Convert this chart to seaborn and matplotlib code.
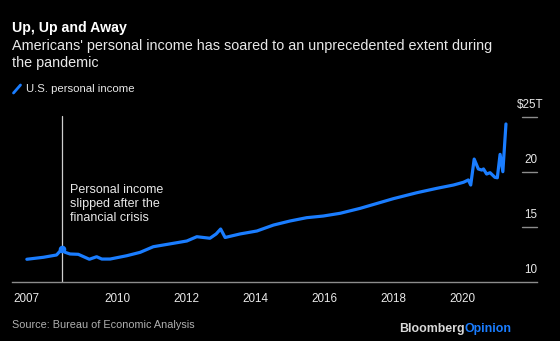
import matplotlib
matplotlib.use("Agg")
import matplotlib.pyplot as plt
from matplotlib.lines import Line2D
import matplotlib.transforms as mtransforms
import seaborn as sns
import pandas as pd

# ---- data ----
years = [2007.38, 2007.86, 2008.24, 2008.39, 2008.49, 2008.63, 2008.87, 2009.19,
         2009.40, 2009.55, 2009.79, 2010.27, 2010.66, 2011.04, 2011.62, 2012.01,
         2012.30, 2012.68, 2012.86, 2012.99, 2013.12, 2013.55, 2014.04, 2014.52,
         2015.00, 2015.48, 2015.96, 2016.45, 2017.03, 2017.50, 2017.99, 2018.67,
         2019.25, 2019.73, 2020.02, 2020.16, 2020.23, 2020.33, 2020.45, 2020.55,
         2020.60, 2020.69, 2020.79, 2020.93, 2021.00, 2021.08, 2021.16, 2021.25]
income = [12.04, 12.22, 12.43, 12.95, 12.67, 12.52, 12.49, 12.04,
          12.27, 12.06, 12.06, 12.36, 12.67, 13.18, 13.49, 13.70,
          14.09, 13.95, 14.34, 14.79, 14.02, 14.34, 14.61, 15.15,
          15.52, 15.82, 15.97, 16.22, 16.67, 17.10, 17.55, 18.09,
          18.49, 18.79, 19.04, 19.25, 18.79, 21.15, 20.25, 20.15,
          20.25, 19.79, 19.91, 19.49, 19.45, 21.58, 20.00, 24.34]
series_name = "U.S. personal income"
xtick_pos = [2007.38, 2010, 2012, 2014, 2016, 2018, 2020]
xtick_labels = ["2007", "2010", "2012", "2014", "2016", "2018", "2020"]
ytick_vals = [10, 15, 20, 25]
ytick_labels = ["10", "15", "20", "$25T"]
event_year = 2008.39
event_value = 12.95
annotation = "Personal income\nslipped after the\nfinancial crisis"

title = "Up, Up and Away"
subtitle = "Americans' personal income has soared to an unprecedented extent during\nthe pandemic"
source = "Source: Bureau of Economic Analysis"

# ---- style ----
BG = "#000000"
BLUE = "#1a7dff"
TXT = "#e8e8e8"
GREY = "#b0b0b0"
AXC = "#8c8c8c"

sns.set_theme(style="dark")
plt.rcParams["font.family"] = ["Liberation Sans", "DejaVu Sans"]

fig = plt.figure(figsize=(5.6, 3.41), dpi=100, facecolor=BG)
W, H = 560.0, 341.0
ax = fig.add_axes([12 / W, (H - 281.7) / H, (536.7 - 12) / W, (281.7 - 100) / H])
ax.set_facecolor(BG)

df = pd.DataFrame({"year": years, "income": income})
sns.lineplot(data=df, x="year", y="income", ax=ax, color=BLUE, linewidth=2.3,
             estimator=None, sort=False, legend=False)

ax.set_xlim(2006.95, 2022.14)
ax.set_ylim(10, 26.52)

# vertical event line and marker
ax.plot([event_year, event_year], [10, 25.06], color="#cfcfcf", linewidth=0.9, zorder=1)
ax.scatter([event_year], [event_value], s=30, color=BLUE, zorder=5, linewidths=0)
ax.text(event_year + 0.25, 18.9, annotation, color=TXT, fontsize=9.0,
        ha="left", va="top", linespacing=1.22)

# spines / ticks
for s in ["top", "right", "left"]:
    ax.spines[s].set_visible(False)
ax.spines["bottom"].set_color(AXC)
ax.spines["bottom"].set_linewidth(1.0)
ax.grid(False)
ax.set_xticks(xtick_pos)
ax.set_xticklabels(xtick_labels)
ax.tick_params(axis="x", colors=AXC, length=4, width=1.0, direction="out",
               labelcolor=TXT, labelsize=8.4, pad=4)
ax.set_yticks([])
ax.set_xlabel("")
ax.set_ylabel("")

# right-side y tick marks and labels
trans = mtransforms.blended_transform_factory(ax.transAxes, ax.transData)
for v, lab in zip(ytick_vals, ytick_labels):
    if v != 10:
        ax.plot([(521.7 - 12) / (536.7 - 12), 1.0], [v, v], transform=trans,
                color=AXC, linewidth=1.0, clip_on=False)
    ax.text(1.0 - (536.7 - 530.5) / (536.7 - 12), v + 1.1, lab, transform=trans,
            color=TXT, fontsize=8.4, ha="center", va="center")

# titles
fig.text(11.5 / W, 1 - 27.7 / H, title, color="#ffffff", fontsize=10.2,
         fontweight="bold", ha="left", va="center")
fig.text(11.5 / W, 1 - 54.5 / H, subtitle, color=TXT, fontsize=10.4,
         ha="left", va="center", linespacing=1.2)

# legend (slash icon)
fig.add_artist(Line2D([13.5 / W, 20.5 / W], [1 - 93 / H, 1 - 85 / H],
                      color=BLUE, linewidth=2.0, transform=fig.transFigure))
fig.text(25.5 / W, 1 - 89 / H, series_name, color=TXT, fontsize=8.2,
         ha="left", va="center")

# footer
fig.text(12 / W, 1 - 324.5 / H, source, color=GREY, fontsize=7.8,
         ha="left", va="center")
t1 = fig.text(399 / W, 1 - 329.3 / H, "Bloomberg", color="#d8d8d8",
              fontsize=8.9, fontweight="bold", ha="left", va="center")
fig.canvas.draw()
bb = t1.get_window_extent()
fig.text(bb.x1 / W, 1 - 329.3 / H, "Opinion", color=BLUE, fontsize=8.9,
         fontweight="bold", ha="left", va="center")

fig.savefig("out.png", dpi=100, facecolor=BG)
